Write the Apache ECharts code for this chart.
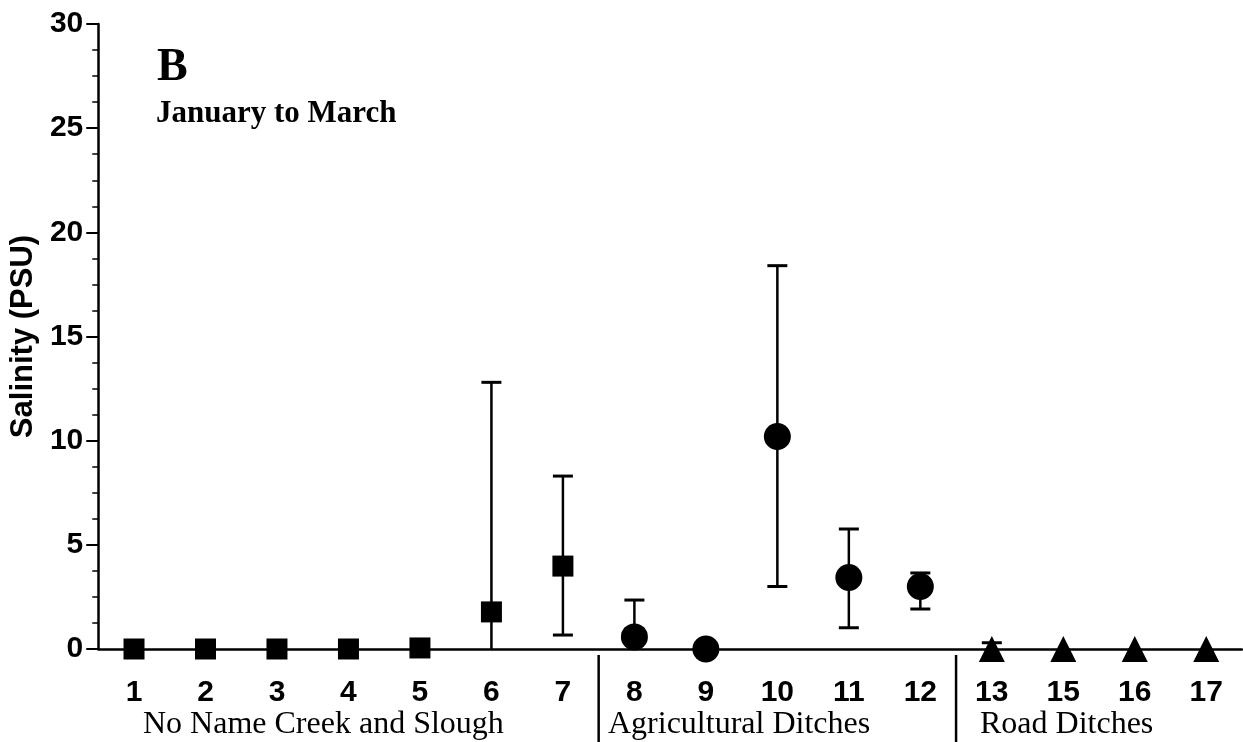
<!DOCTYPE html>
<html>
<head>
<meta charset="utf-8">
<script src="https://cdn.jsdelivr.net/npm/echarts@6/dist/echarts.min.js"></script>
<style>html,body{margin:0;padding:0;background:#fff}#c{width:1243px;height:742px}</style>
</head>
<body>
<div id="c"></div>
<script>
const categories = ['1','2','3','4','5','6','7','8','9','10','11','12','13','15','16','17'];
const means      = [0, 0, 0, 0, 0.05, 1.78, 3.98, 0.58, 0, 10.2, 3.43, 3.0, 0, 0, 0, 0];
const upperBound = [null, null, null, null, null, 12.8, 8.3, 2.35, null, 18.4, 5.76, 3.65, 0.3, null, null, null];
const lowerBound = [null, null, null, null, null, -9.2, 0.67, -1.2, null, 3.0, 1.02, 1.92, -0.3, null, null, null];
const groupNames  = ['No Name Creek and Slough', 'Agricultural Ditches', 'Road Ditches'];
const groupStarts = [0, 7, 12];
const groupEnds   = [6, 11, 15];
const groupSymbols = ['rect', 'circle', 'triangle'];
const groupSizes   = [21, 27, 26];
const yTicks = { min: 0, max: 30, interval: 5 };

const chart = echarts.init(document.getElementById('c'));

const pointSeries = groupNames.map((g, k) => ({
  type: 'scatter',
  name: g,
  symbol: groupSymbols[k],
  symbolSize: groupSizes[k],
  itemStyle: { color: '#000', opacity: 1 },
  z: 5,
  clip: false,
  data: means.map((v, i) => (i >= groupStarts[k] && i <= groupEnds[k]) ? [i, v] : null).filter(d => d)
}));

const errData = [];
upperBound.forEach((u, i) => { if (u !== null) errData.push([i, u, lowerBound[i]]); });

const sepData = groupEnds.slice(0, -1).map(e => [e]);
const serif = '"Liberation Serif", "Times New Roman", serif';

chart.setOption({
  animation: false,
  backgroundColor: '#fff',
  grid: { left: 98, right: 1, top: 24, bottom: 93 },
  xAxis: {
    type: 'category',
    data: categories,
    boundaryGap: true,
    axisLine: { lineStyle: { color: '#000', width: 2.5 } },
    axisTick: { alignWithLabel: true, length: 10, lineStyle: { color: '#000', width: 2 } },
    axisLabel: { color: '#000', fontFamily: 'Liberation Sans, Arial', fontWeight: 'bold', fontSize: 30, margin: 29 },
    splitLine: { show: false }
  },
  yAxis: {
    type: 'value',
    min: yTicks.min, max: yTicks.max, interval: yTicks.interval,
    name: 'Salinity (PSU)',
    nameLocation: 'middle',
    nameGap: 58,
    nameTextStyle: { color: '#000', fontFamily: 'Liberation Sans, Arial', fontWeight: 'bold', fontSize: 31 },
    axisLine: { show: true, lineStyle: { color: '#000', width: 2.5 } },
    axisTick: { show: true, length: 12, lineStyle: { color: '#000', width: 2 } },
    minorTick: { show: true, splitNumber: 4, length: 6, lineStyle: { color: '#000', width: 1.5 } },
    axisLabel: { color: '#000', fontFamily: 'Liberation Sans, Arial', fontWeight: 'bold', fontSize: 30, margin: 15 },
    splitLine: { show: false }
  },
  graphic: [
    { type: 'text', left: 157, top: 45, style: { text: 'B', fill: '#000', font: 'bold 46px ' + serif } },
    { type: 'text', left: 156, top: 98, style: { text: 'January to March', fill: '#000', font: 'bold 31px ' + serif } },
    { type: 'text', left: 143, top: 709, style: { text: groupNames[0], fill: '#000', font: '32px ' + serif } },
    { type: 'text', left: 608, top: 709, style: { text: groupNames[1], fill: '#000', font: '32px ' + serif } },
    { type: 'text', left: 980, top: 709, style: { text: groupNames[2], fill: '#000', font: '32px ' + serif } }
  ],
  series: [
    {
      type: 'custom',
      name: 'errors',
      clip: false,
      z: 3,
      data: errData,
      renderItem: function (params, api) {
        const i = api.value(0), hi = api.value(1), lo = api.value(2);
        const top = api.coord([i, hi]);
        const zero = api.coord([i, 0]);
        const bot = lo < 0 ? zero : api.coord([i, lo]);
        const capW = 10;
        const st = { stroke: '#000', lineWidth: 2.5 };
        const children = [
          { type: 'line', shape: { x1: top[0], y1: top[1], x2: bot[0], y2: bot[1] }, style: st },
          { type: 'line', shape: { x1: top[0] - capW, y1: top[1], x2: top[0] + capW, y2: top[1] }, style: { stroke: '#000', lineWidth: 3 } }
        ];
        if (lo >= 0) {
          children.push({ type: 'line', shape: { x1: bot[0] - capW, y1: bot[1], x2: bot[0] + capW, y2: bot[1] }, style: { stroke: '#000', lineWidth: 3 } });
        }
        return { type: 'group', children: children };
      }
    },
    {
      type: 'custom',
      name: 'separators',
      clip: false,
      z: 2,
      data: sepData,
      renderItem: function (params, api) {
        const e = api.value(0);
        const a = api.coord([e, 0]);
        const b = api.coord([e + 1, 0]);
        const x = (a[0] + b[0]) / 2;
        return { type: 'line', shape: { x1: x, y1: a[1] + 6, x2: x, y2: api.getHeight() }, style: { stroke: '#000', lineWidth: 2.5 } };
      }
    }
  ].concat(pointSeries)
});
</script>
</body>
</html>
